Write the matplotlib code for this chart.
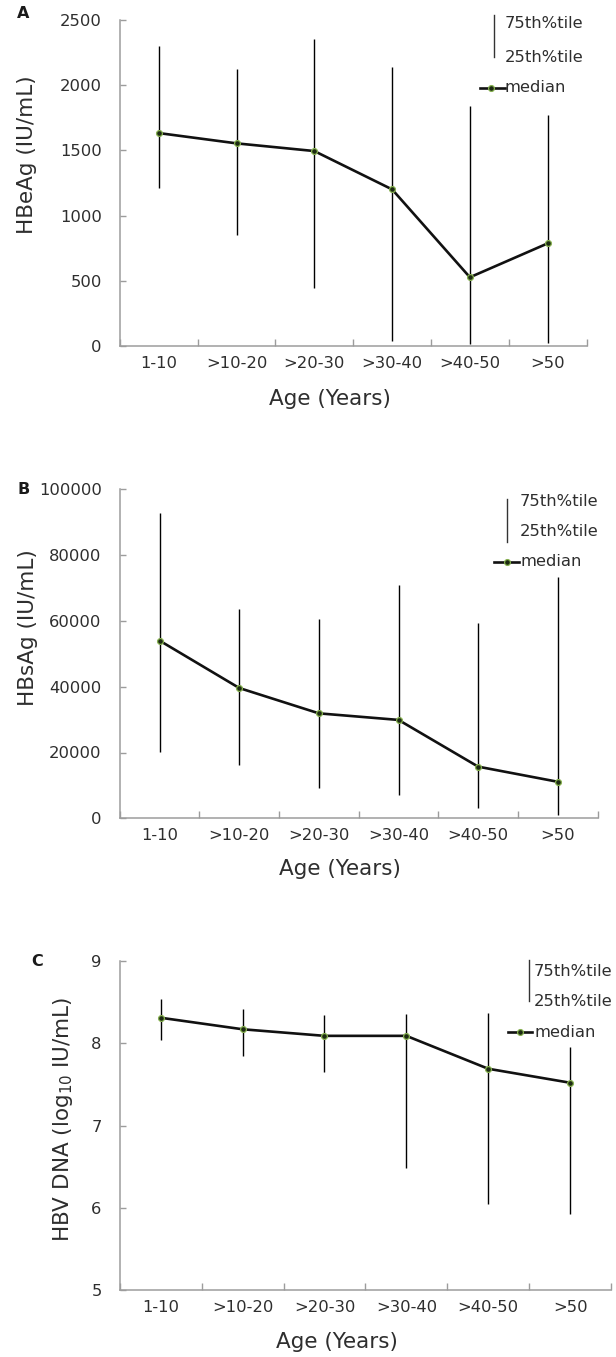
import matplotlib
matplotlib.use("Agg")
import matplotlib.pyplot as plt
from matplotlib.lines import Line2D

plt.rcParams["font.family"] = ["DejaVu Sans"]

# --- données ---
age_groups = ["1-10", ">10-20", ">20-30", ">30-40", ">40-50", ">50"]

hbeag_median = [1633, 1554, 1495, 1201, 527, 787]
hbeag_q75 = [2300, 2127, 2354, 2140, 1840, 1769]
hbeag_q25 = [1209, 851, 447, 36, 15, 26]

hbsag_median = [54000, 39600, 31900, 29900, 15700, 11100]
hbsag_q75 = [92700, 63700, 60700, 70900, 59500, 73300]
hbsag_q25 = [20100, 16200, 9100, 7100, 3000, 1000]

dna_median = [8.31, 8.17, 8.09, 8.09, 7.69, 7.52]
dna_q75 = [8.54, 8.42, 8.34, 8.36, 8.37, 7.95]
dna_q25 = [8.04, 7.85, 7.65, 6.48, 6.05, 5.93]

W, H = 616, 1357
fig = plt.figure(figsize=(W / 100, H / 100), dpi=100)

SPINE = "#9c9c9c"
TXT = "#2e2e2e"


def px_rect(left, right, top, bottom):
    return [left / W, 1 - bottom / H, (right - left) / W, (bottom - top) / H]


def draw_panel(rect, med, q75, q25, yticks, ylabel, ylab_x, ylab_y, xlab_x, xlab_y):
    ax = fig.add_axes(rect)
    x = list(range(len(age_groups)))
    ax.vlines(x, q25, q75, color="black", lw=1.0)
    ax.plot(x, med, color="#111111", lw=1.9, marker="o", ms=4.2,
            mfc="#1c2a12", mec="#86b04f", mew=0.9, zorder=3)
    ax.set_xlim(-0.5, len(age_groups) - 0.5)
    ax.set_ylim(yticks[0], yticks[-1])
    ax.set_yticks(yticks)
    ax.set_xticks(x)
    ax.set_xticklabels(age_groups)
    ax.set_xticks([i + 0.5 for i in range(-1, len(age_groups))], minor=True)
    ax.tick_params(axis="x", which="major", length=0, pad=7,
                   labelsize=11.8, labelcolor=TXT)
    ax.tick_params(axis="x", which="minor", direction="in", length=5,
                   width=1, color=SPINE)
    ax.tick_params(axis="y", direction="in", length=4, width=1, color=SPINE,
                   pad=13, labelsize=11.8, labelcolor=TXT)
    for s in ["top", "right"]:
        ax.spines[s].set_visible(False)
    for s in ["left", "bottom"]:
        ax.spines[s].set_color(SPINE)
        ax.spines[s].set_linewidth(1.1)
    ax.set_ylabel(ylabel, fontsize=15.5, color=TXT)
    ax.yaxis.set_label_coords(ylab_x, ylab_y)
    ax.set_xlabel("Age (Years)", fontsize=15.5, color=TXT)
    ax.xaxis.set_label_coords(xlab_x, xlab_y)
    return ax


def draw_key(vx, vy0, vy1, tx, y75, y25, ymed, mx0, mx1, mdot):
    f = lambda px, py: (px / W, 1 - py / H)
    p0, p1 = f(vx, vy0), f(vx, vy1)
    fig.add_artist(Line2D([p0[0], p1[0]], [p0[1], p1[1]], color="#333333", lw=1.0))
    q0, q1 = f(mx0, ymed), f(mx1, ymed)
    fig.add_artist(Line2D([q0[0], q1[0]], [q0[1], q1[1]], color="#111111", lw=1.9))
    d = f(mdot, ymed)
    fig.add_artist(Line2D([d[0]], [d[1]], marker="o", ms=4.2, mfc="#1c2a12",
                          mec="#86b04f", mew=0.9, lw=0))
    for lab, yy in [("75th%tile", y75), ("25th%tile", y25), ("median", ymed)]:
        fig.text(tx / W, 1 - yy / H, lab, fontsize=11.8, color=TXT,
                 ha="left", va="center")


# Panel A
draw_panel(px_rect(119.8, 586.6, 20, 346), hbeag_median, hbeag_q75, hbeag_q25,
           [0, 500, 1000, 1500, 2000, 2500], "HBeAg (IU/mL)",
           -0.177, 0.586, 0.450, -0.132)
draw_key(494, 15, 57, 505, 24, 57, 88, 480, 505, 491)
fig.text(23.5 / W, 1 - 14 / H, "A", fontsize=11.5, fontweight="bold",
         ha="center", va="center", color="#1a1a1a")

# Panel B
draw_panel(px_rect(119.8, 597.6, 489.3, 818.3), hbsag_median, hbsag_q75, hbsag_q25,
           [0, 20000, 40000, 60000, 80000, 100000], "HBsAg (IU/mL)",
           -0.171, 0.58, 0.4607, -0.125)
draw_key(506.9, 499, 541.7, 520, 501, 531, 561.7, 494.3, 518.7, 506.9)
fig.text(23.6 / W, 1 - 489 / H, "B", fontsize=11.5, fontweight="bold",
         ha="center", va="center", color="#1a1a1a")

# Panel C
draw_panel(px_rect(119.8, 611, 961, 1290), dna_median, dna_q75, dna_q25,
           [5, 6, 7, 8, 9], r"HBV DNA (log$_{10}$ IU/mL)",
           -0.092, 0.52, 0.4416, -0.128)
draw_key(529.3, 960, 1001, 534, 971.7, 1001.7, 1032.3, 508, 532.4, 519.5)
fig.text(37.5 / W, 1 - 962 / H, "C", fontsize=11.5, fontweight="bold",
         ha="center", va="center", color="#1a1a1a")

fig.savefig("out.png", dpi=100, facecolor="white")
